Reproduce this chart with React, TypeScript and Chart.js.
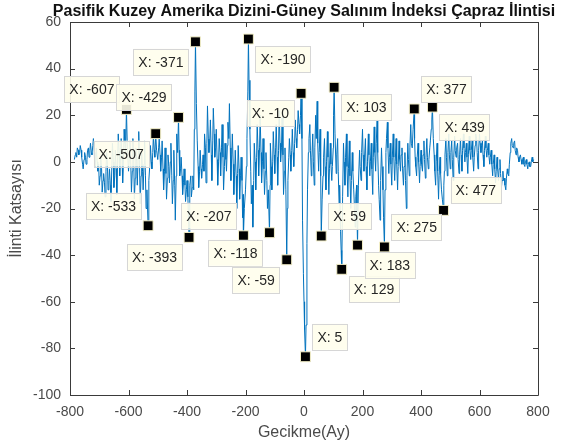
import { useEffect, useRef } from 'react';
import { Chart, registerables } from 'chart.js';

Chart.register(...registerables);

const TITLE = 'Pasifik Kuzey Amerika Dizini-Güney Salınım İndeksi Çapraz İlintisi';
const X_LABEL = 'Gecikme(Ay)';
const Y_LABEL = 'İlinti Katsayısı';

const lags = [
  -785, -782, -780, -777, -775, -772, -770, -767, -765, -762, -760, -757, -755, -752, -750, -747, -745, -742, -740, -737,
  -735, -732, -730, -727, -725, -722, -720, -717, -715, -712, -710, -707, -705, -702, -700, -697, -695, -692, -690, -687,
  -685, -682, -680, -677, -675, -672, -670, -667, -665, -662, -660, -657, -655, -652, -650, -647, -645, -642, -640, -637,
  -635, -632, -630, -627, -625, -622, -620, -617, -615, -612, -610, -607, -604, -600, -597, -595, -592, -590, -587,
  -585, -582, -580, -577, -575, -572, -570, -567, -565, -562, -560, -557, -555, -552, -550, -547, -545, -542, -540, -537,
  -533, -531, -530, -527, -525, -522, -520, -517, -515, -512, -510, -507, -504, -500, -497, -495, -492, -490, -487,
  -485, -482, -480, -477, -475, -472, -470, -467, -465, -462, -460, -457, -455, -452, -450, -447, -445, -442, -440, -437,
  -435, -432, -429, -427, -425, -422, -420, -417, -415, -412, -410, -407, -405, -402, -400, -397, -393, -391, -390, -387,
  -385, -382, -380, -377, -375, -373, -371, -368, -365, -362, -360, -357, -355, -352, -350, -347, -345, -342, -340, -337,
  -335, -332, -330, -327, -325, -322, -320, -317, -315, -312, -310, -307, -305, -302, -300, -297, -295, -292, -290, -287,
  -285, -282, -280, -277, -275, -272, -270, -267, -265, -262, -260, -257, -255, -252, -250, -247, -245, -242, -240, -237,
  -235, -232, -230, -227, -225, -222, -220, -217, -215, -212, -210, -208, -207, -204, -200, -197, -195, -192, -190, -188,
  -185, -182, -180, -177, -175, -172, -170, -167, -165, -162, -160, -157, -155, -152, -150, -147, -145, -142, -140, -137,
  -135, -132, -130, -127, -125, -122, -118, -116, -115, -112, -110, -107, -105, -102, -100, -97, -95, -92, -90, -87,
  -85, -82, -80, -77, -75, -72, -70, -67, -65, -62, -59, -57, -55, -52, -50, -47, -45, -42, -40, -37,
  -35, -32, -30, -27, -25, -22, -20, -17, -15, -12, -10, -7, -5, -2, 0, 2, 5, 7, 10, 12,
  15, 17, 20, 22, 25, 27, 30, 32, 35, 37, 40, 42, 45, 47, 50, 52, 55, 57, 59, 62,
  65, 67, 70, 72, 75, 77, 80, 82, 85, 87, 90, 92, 95, 97, 100, 101, 103, 106, 110, 112,
  115, 117, 120, 122, 125, 127, 129, 132, 135, 137, 140, 142, 145, 147, 150, 152, 155, 157, 160, 162,
  165, 167, 170, 172, 175, 177, 180, 181, 183, 186, 190, 192, 195, 197, 200, 202, 205, 207, 210, 212,
  215, 217, 220, 222, 225, 227, 230, 232, 235, 237, 240, 242, 245, 247, 250, 252, 255, 257, 260, 262,
  265, 267, 270, 272, 275, 277, 280, 282, 285, 287, 290, 292, 295, 297, 300, 302, 305, 307, 310, 312,
  315, 317, 320, 322, 325, 327, 330, 332, 335, 337, 340, 342, 345, 347, 350, 352, 355, 357, 360, 362,
  365, 367, 370, 373, 377, 378, 380, 382, 385, 387, 390, 392, 395, 397, 400, 402, 405, 407, 410, 412,
  415, 417, 420, 422, 425, 427, 430, 432, 435, 437, 439, 442, 445, 447, 450, 452, 455, 457, 460, 462,
  465, 467, 470, 473, 477, 478, 480, 482, 485, 487, 490, 492, 495, 497, 500, 502, 505, 507, 510, 512,
  515, 517, 520, 522, 525, 527, 530, 532, 535, 537, 540, 542, 545, 547, 550, 552, 555, 557, 560, 562,
  565, 567, 570, 572, 575, 577, 580, 582, 585, 587, 590, 592, 595, 597, 600, 602, 605, 607, 610, 612,
  615, 617, 620, 622, 625, 627, 630, 632, 635, 637, 640, 642, 645, 647, 650, 652, 655, 657, 660, 662,
  665, 667, 670, 672, 675, 677, 680, 682, 685, 687, 690, 692, 695, 697, 700, 702, 705, 707, 710, 712,
  715, 717, 720, 722, 725, 727, 730, 732, 735, 737, 740, 742, 745, 747, 750, 752, 755, 757, 760, 762,
  765, 767, 770, 772, 775, 777, 780, 782, 785,
];

const correlation = [
  1, 3, 4, 2, 6, 5, 3, 4, 7, 5, 2, -1, -3, 1, 4, 2, -1, 1, 5, 6,
  2, 5, 8, 4, 3, 7, 10, 4, -2, 1, 6, 0, -4, -1, -10, -6, 2, -3, -13, -8,
  -5, -9, -15, -4, 4, -1, -12, -8, -3, -10, -17, -2, 8, 0, -11, -6, 5, -3, -14, 2,
  12, 4, -6, 3, 10, 2, -9, 1, 14, 8, 3, 22.5, 6, -4, 2, 9, -2, -13, -4,
  10, 1, -16, -7, 6, 0, -10, 2, 13, -3, -18, -6, 4, -4, -12, -1, 9, -6, -20, -12,
  -27.4, -15, -8, -1, 7, 0, -3, 4, 11, 5, 2, 12.1, 5, 1, 6, 10, 3, -4, 2,
  9, -3, -12, -4, 6, -5, -16, -7, 3, -2, -9, 0, 8, -6, -18, -8, 5, -10, -25, -6,
  12, 4, 19.1, 5, -6, -3, 2, -6, -14, -9, -3, -10, -17, -12, -8, -15, -32.4, -20, -10, -6,
  -15, -11, -6, -12, 14, 30, 51.5, 25, 9, -2, -11, -4, 5, -3, -7, -1, 3, -4, 12, 6,
  -9, 8, 24, 10, 4, 10, 18, 3, -8, 9, 23, 12, 2, 6, 14, 1, -10, 0, 10, 4,
  -6, 6, 16, 2, -12, -2, 8, 1, -4, 7, 17, 10, 25, 6, -8, 3, 12, -1, -14, -4,
  5, -6, -20, -5, 7, -3, -16, -6, 2, -8, -24, -14, -31.7, -20, -12, -2, 10, 30, 52.7, 35,
  14, -4, -18, -10, -28, -8, 8, 0, -12, 2, 16, 5, -6, 6, 20, 4, -9, 0, 10, -3,
  -14, -4, 4, -8, -20, -12, -30.4, -10, 8, -2, -12, 0, 13, 3, -5, 6, 16, 2, -10, 5,
  22, 8, 0, 6, 19, 3, -14, -4, 6, -12, -42, -20, -8, 2, 10, 3, -4, 5, 14, 4,
  -2, 8, 18, 10, 6, 14, 22, 16, 12, 20, 29.4, 10, -25, -48, -60, -72, -83.6, -70, -35, -12,
  4, 10, 16, 5, -6, 2, 12, 0, -10, 6, 20, 10, 26, 8, -4, 4, 14, -6, -31.8, -16,
  -6, 2, 10, -2, -12, 0, 13, 2, -14, -3, 8, -1, -8, -2, 6, 20, 32, 12, -5, 3,
  10, -4, -18, -10, -30, -38, -46.1, -15, 8, 0, -10, 2, 12, -2, -15, -3, 9, -6, -20, -8,
  4, -4, -12, -18, -28, -15, -10, -22, -35.7, -10, 5, -2, -8, 4, 14, 3, -4, 2, 10, -2,
  -12, 0, 12, 3, -6, 0, 8, -3, -14, 2, 15, 4, -4, 8, 18, 4, -10, -16, -25, -8,
  6, -2, -12, -24, -36.5, -12, 4, 10, 17, 6, -5, 2, 8, -1, -10, 2, 12, 2, -8, 0,
  10, -1, -12, -2, 9, 1, -4, 3, 6, -3, -10, -2, 4, -8, -20, -6, 8, 1, -6, 6,
  16, 8, 6, 14, 22.7, 10, 2, -2, -6, 2, 8, 0, -9, -2, 5, -1, -4, 3, 9, 1,
  -7, 2, 10, 2, -3, 1, 6, 9, 14, 18, 23.5, 10, 3, -4, -10, 0, 8, -4, -16, -6,
  2, -5, -12, -16, -20.8, -10, -4, 3, 10, 2, -6, 4, 12, 3, -3, 4, 9, 1, -8, 2,
  11, 5, 2, 6, 8, 1, -5, 3, 10, 3, -4, 5, 12, 6, 0, 4, 8, 2, -5, 3,
  11, 5, 1, 5, 9, 2, -4, 2, 7, 12, 10, 4, -3, 5, 12, 8, 4, 7, 9, 3,
  -2, 5, 11, 6, 2, 5, 8, 3, -1, 2, 5, -1, -6, -1, 3, -3, -9, -4, 2, -3,
  -8, -3, 1, -5, -11, -8, -4, -8, -7, -10, -12, -7, -3, -5, -6, -1, 4, 8, 10, 7,
  6, 8, 9, 5, 3, 6, 5, 2, 0, 2, 3, 1, -1, 1, 2, -1, -2, 0, 1, -1,
  -3, -1, 0, -2, -2, 0, 2, 0, 1,
];

// Data tips (MATLAB style) : lag, value, box placement
const tipLags = [-607, -533, -507, -429, -393, -371, -207, -190, -118, -59, -10, 5, 59, 103, 129, 183, 275, 377, 439, 477];
const tipValues = [22.5, -27.4, 12.1, 19.1, -32.4, 51.5, -31.7, 52.7, -30.4, -42, 29.4, -83.6, -31.8, 32, -46.1, -35.7, -36.5, 22.7, 23.5, -20.8];
const tipPlacement = ['nw', 'nw', 'sw', 'nw', 'sw', 'sw', 'nw', 'se', 'sw', 'sw', 'sw', 'ne', 'ne', 'se', 'se', 'se', 'ne', 'ne', 'se', 'ne'];

const X_MIN = -800;
const X_MAX = 800;
const X_STEP = 200;
const Y_MIN = -100;
const Y_MAX = 60;
const Y_STEP = 20;

const AXIS_COLOR = '#3a3a3a';
const FONT = '"Liberation Sans", Arial, Helvetica, sans-serif';

const matlabPlugin = {
  id: 'matlabDecor',
  afterDatasetsDraw(chart: any) {
    const { ctx, chartArea } = chart;
    const { left, right, top, bottom } = chartArea;
    const xs = chart.scales.x;
    const ys = chart.scales.y;
    ctx.save();
    ctx.strokeStyle = AXIS_COLOR;
    ctx.lineWidth = 1;
    ctx.beginPath();
    ctx.rect(left + 0.5, top + 0.5, right - left, bottom - top);
    ctx.stroke();
    const tl = 5;
    ctx.beginPath();
    xs.ticks.forEach((t: any) => {
      const px = Math.round(xs.getPixelForValue(t.value)) + 0.5;
      ctx.moveTo(px, bottom);
      ctx.lineTo(px, bottom - tl);
      ctx.moveTo(px, top);
      ctx.lineTo(px, top + tl);
    });
    ys.ticks.forEach((t: any) => {
      const py = Math.round(ys.getPixelForValue(t.value)) + 0.5;
      ctx.moveTo(left, py);
      ctx.lineTo(left + tl, py);
      ctx.moveTo(right, py);
      ctx.lineTo(right - tl, py);
    });
    ctx.stroke();

    const meta = chart.getDatasetMeta(0);
    ctx.font = `14px ${FONT}`;
    ctx.textBaseline = 'middle';
    meta.data.forEach((pt: any, i: number) => {
      const text = `X: ${tipLags[i]}`;
      const w = ctx.measureText(text).width + 10;
      const h = 26;
      const gap = 7;
      const pl = tipPlacement[i];
      const bx = pl.includes('e') ? pt.x + gap : pt.x - gap - w;
      const by = pl.includes('s') ? pt.y + gap : pt.y - gap - h;
      ctx.fillStyle = 'rgba(255,254,236,0.9)';
      ctx.fillRect(bx, by, w, h);
      ctx.strokeStyle = '#d6d6d6';
      ctx.strokeRect(Math.round(bx) + 0.5, Math.round(by) + 0.5, Math.round(w), h);
      ctx.fillStyle = '#262626';
      ctx.textAlign = 'left';
      ctx.fillText(text, bx + 5, by + h / 2 + 1);
    });

    ctx.fillStyle = '#111111';
    ctx.font = `bold 16px ${FONT}`;
    ctx.textAlign = 'center';
    ctx.textBaseline = 'middle';
    ctx.fillText(TITLE, (left + right) / 2, 12);
    ctx.fillStyle = '#4a4a4a';
    ctx.font = `16px ${FONT}`;
    ctx.fillText(X_LABEL, (left + right) / 2, 433);
    ctx.translate(17, (top + bottom) / 2);
    ctx.rotate(-Math.PI / 2);
    ctx.fillText(Y_LABEL, 0, 0);
    ctx.restore();
  },
};

export default function App() {
  const canvasRef = useRef<HTMLCanvasElement | null>(null);

  useEffect(() => {
    const canvas = canvasRef.current;
    if (!canvas) return;
    const linePoints = lags.map((x, i) => ({ x, y: correlation[i] }));
    const tipPoints = tipLags.map((x, i) => ({ x, y: tipValues[i] }));
    const chart = new Chart(canvas, {
      type: 'line',
      data: {
        datasets: [
          {
            type: 'scatter',
            data: tipPoints,
            pointStyle: 'rect',
            pointRadius: 7,
            pointBackgroundColor: '#000000',
            pointBorderColor: '#f3efc8',
            pointBorderWidth: 1,
            showLine: false,
            order: 0,
          } as any,
          {
            type: 'line',
            data: linePoints,
            borderColor: '#0072BD',
            borderWidth: 1,
            pointRadius: 0,
            tension: 0,
            fill: false,
            order: 1,
          },
        ],
      },
      options: {
        animation: false,
        responsive: false,
        devicePixelRatio: 1,
        layout: { padding: { top: 22, right: 38, left: 0, bottom: 0 } },
        plugins: {
          legend: { display: false },
          tooltip: { enabled: false },
          title: { display: false },
        },
        scales: {
          x: {
            type: 'linear',
            min: X_MIN,
            max: X_MAX,
            grid: { display: false, drawTicks: false },
            border: { display: false },
            ticks: {
              stepSize: X_STEP,
              padding: 9,
              color: '#4a4a4a',
              font: { family: FONT, size: 14 },
              maxRotation: 0,
            },
            afterFit: (s: any) => {
              s.height = 52;
            },
          },
          y: {
            type: 'linear',
            min: Y_MIN,
            max: Y_MAX,
            grid: { display: false, drawTicks: false },
            border: { display: false },
            ticks: {
              stepSize: Y_STEP,
              padding: 9,
              color: '#4a4a4a',
              font: { family: FONT, size: 14 },
            },
            afterFit: (s: any) => {
              s.width = 70;
            },
          },
        },
      },
      plugins: [matlabPlugin],
    });
    return () => chart.destroy();
  }, []);

  return (
    <div style={{ position: 'absolute', left: 0, top: 0, width: 576, height: 447, background: '#ffffff' }}>
      <canvas ref={canvasRef} width={576} height={447} style={{ width: 576, height: 447, display: 'block' }} />
    </div>
  );
}
